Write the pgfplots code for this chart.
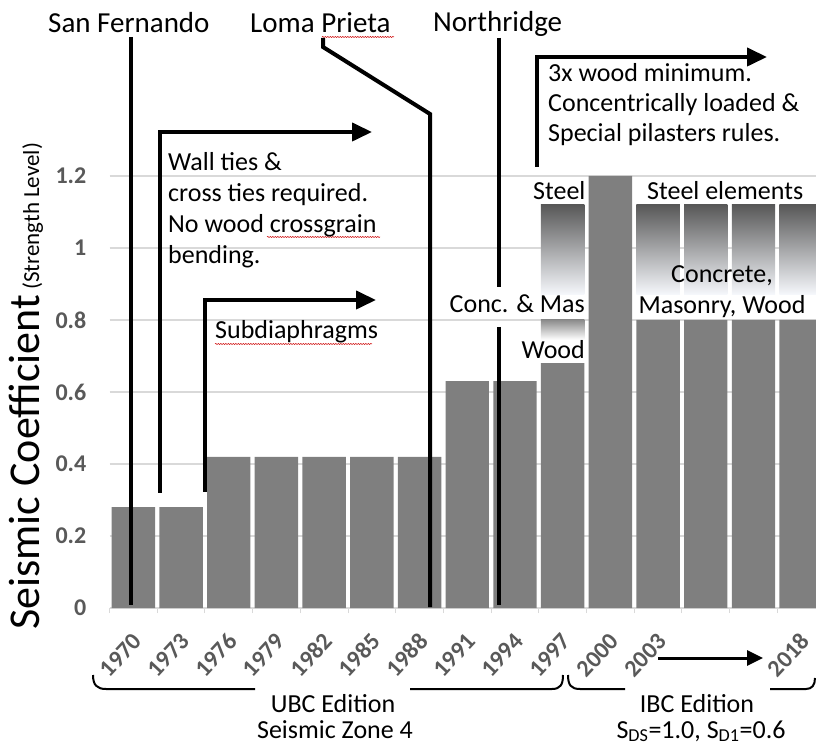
\documentclass[border=0pt]{standalone}
\usepackage{pgfplots}
\pgfplotsset{compat=1.18}
\usepackage{fontspec}
\setmainfont{Carlito}
\usetikzlibrary{arrows.meta,decorations.pathmorphing}
\definecolor{bargray}{RGB}{127,127,127}
\definecolor{tickgray}{RGB}{89,89,89}
\definecolor{gridgray}{RGB}{217,217,217}
\definecolor{steeltop}{RGB}{88,88,88}
\definecolor{steelmid}{RGB}{192,196,204}
\definecolor{steelbot}{RGB}{246,248,252}
\definecolor{woodtop}{RGB}{140,140,140}
\newcommand{\fsA}{\fontsize{29}{35}\selectfont}
\newcommand{\fsB}{\fontsize{26}{31}\selectfont}
\newcommand{\fsT}{\fontsize{24}{29}\selectfont\bfseries}
\begin{document}
\begin{tikzpicture}[x=1pt,y=1pt]
\path[use as bounding box] (0,0) rectangle (816,747);
\clip (0,0) rectangle (816,747);
\begin{axis}[
  at={(109.5pt,139pt)}, anchor=south west,
  scale only axis, width=715.5pt, height=432pt,
  xmin=-0.5, xmax=14.5, ymin=0, ymax=1.2,
  clip=false,
  axis line style={draw=none},
  ytick={0,0.2,0.4,0.6,0.8,1,1.2},
  yticklabels={{\fsT 0},{\fsT 0.2},{\fsT 0.4},{\fsT 0.6},{\fsT 0.8},{\fsT 1},{\fsT 1.2}},
  ymajorgrids, major grid style={gridgray, line width=1.3pt},
  ytick style={draw=none},
  major tick length=0pt,
  yticklabel style={text=tickgray, anchor=east, inner sep=0pt, xshift=-23pt},
  xtick={0,...,14},
  xticklabels={{\fsT 1970},{\fsT 1973},{\fsT 1976},{\fsT 1979},{\fsT 1982},{\fsT 1985},{\fsT 1988},{\fsT 1991},{\fsT 1994},{\fsT 1997},{\fsT 2000},{\fsT 2003},{},{},{\fsT 2018}},
  minor xtick={-0.5,0.5,...,14.5},
  minor tick length=5pt, tick align=outside, xtick pos=lower,
  minor tick style={gridgray, line width=1pt},
  xticklabel style={text=tickgray, inner sep=0pt, xshift=4pt, rotate=47, anchor=east},
  xticklabel shift=29pt,
]
\addplot[ybar, bar width=0.91, fill=bargray, draw=none, bar shift=0pt]
  coordinates {(0,0.28)(1,0.28)(2,0.42)(3,0.42)(4,0.42)(5,0.42)(6,0.42)
               (7,0.63)(8,0.63)(9,0.68)(10,1.2)(11,0.8)(12,0.8)(13,0.8)(14,0.8)};
% steel gradient boxes
\addplot[draw=none, top color=steeltop, middle color=steelmid, bottom color=steelbot]
  coordinates {(8.545,0.87)(9.455,0.87)(9.455,1.12)(8.545,1.12)};
\addplot[draw=none, top color=steeltop, middle color=steelmid, bottom color=steelbot]
  coordinates {(10.545,0.87)(11.455,0.87)(11.455,1.12)(10.545,1.12)};
\addplot[draw=none, top color=steeltop, middle color=steelmid, bottom color=steelbot]
  coordinates {(11.545,0.87)(12.455,0.87)(12.455,1.12)(11.545,1.12)};
\addplot[draw=none, top color=steeltop, middle color=steelmid, bottom color=steelbot]
  coordinates {(12.545,0.87)(13.455,0.87)(13.455,1.12)(12.545,1.12)};
\addplot[draw=none, top color=steeltop, middle color=steelmid, bottom color=steelbot]
  coordinates {(13.545,0.87)(14.455,0.87)(14.455,1.12)(13.545,1.12)};
% wood gradient box
\addplot[draw=none, top color=woodtop, bottom color=white]
  coordinates {(8.545,0.745)(9.455,0.745)(9.455,0.8)(8.545,0.8)};
\end{axis}
\begin{scope}[y=-1pt, yshift=747pt]
  \begin{scope}[line width=4pt, black]
    \draw (131,37) -- (131,605);
    \draw (323,38) -- (323,47) -- (430,114) -- (430,607);
    \draw (499,38) -- (499,287);
    \draw (499,327) -- (499,605);
    \draw[-{Triangle[length=20pt,width=18pt]}] (160,493) -- (160,132) -- (372,132);
    \draw[-{Triangle[length=20pt,width=18pt]}] (205,492) -- (205,300) -- (376,300);
    \draw[-{Triangle[length=20pt,width=18pt]}] (537,167) -- (537,57) -- (767,57);
  \end{scope}
  \draw[line width=3pt, -{Triangle[length=16pt,width=15pt]}] (658,658) -- (763,658);
  % braces
  \draw[line width=2pt] (93,675) .. controls (93,685) and (97,689) .. (106,689) -- (255,689);
  \draw[line width=2pt] (410,689) -- (552,689) .. controls (560,689) and (563,685) .. (563,675);
  \draw[line width=2pt] (568,675) .. controls (568,685) and (571,689) .. (580,689) -- (625,689);
  \draw[line width=2pt] (770,689) -- (806,689) .. controls (812,689) and (815,685) .. (815,678);
  % spell-check squiggles
  \begin{scope}[red!80!black, line width=0.5pt, decorate, decoration={snake, amplitude=0.6pt, segment length=2.5pt}]
    \draw[decorate] (322,37) -- (394,37);
    \draw[decorate] (267,237) -- (380,237);
    \draw[decorate] (215,344) -- (372,344);
  \end{scope}
  % titles
  \begin{scope}[every node/.style={inner sep=0pt, font=\fsA}]
    \node[anchor=base west] at (48,33) {San Fernando};
    \node[anchor=base west] at (250,33) {Loma Prieta};
    \node[anchor=base west] at (433,32) {Northridge};
  \end{scope}
  \begin{scope}[every node/.style={inner sep=0pt, font=\fsB}]
    \node[anchor=base west] at (168,171) {Wall ties \&};
    \node[anchor=base west] at (168,202) {cross ties required.};
    \node[anchor=base west] at (168,233) {No wood crossgrain};
    \node[anchor=base west] at (168,264) {bending.};
    \node[anchor=base west] at (215,339) {Subdiaphragms};
    \node[anchor=base west] at (548,82) {3x wood minimum.};
    \node[anchor=base west] at (548,112) {Concentrically loaded \&};
    \node[anchor=base west] at (548,142) {Special pilasters rules.};
    \node[anchor=base west] at (533,200) {Steel};
    \node[anchor=base west] at (647,200) {Steel elements};
    \node[anchor=base] at (722,283) {Concrete,};
    \node[anchor=base] at (722,314) {Masonry, Wood};
    \node[anchor=base east] at (585,313) {Conc. \& Mas};
    \node[anchor=base east] at (585,359) {Wood};
    \node[anchor=base] at (333,712) {UBC Edition};
    \node[anchor=base] at (335,738) {Seismic Zone 4};
    \node[anchor=base] at (697,712) {IBC Edition};
    \node[anchor=base] at (701,738) {S\textsubscript{DS}=1.0, S\textsubscript{D1}=0.6};
  \end{scope}
  \node[anchor=base west, rotate=90, inner sep=0pt] at (39,630)
    {{\fontsize{44}{50}\selectfont Seismic Coefficient}{\fontsize{23}{28}\selectfont\ (Strength Level)}};
\end{scope}
\end{tikzpicture}
\end{document}
